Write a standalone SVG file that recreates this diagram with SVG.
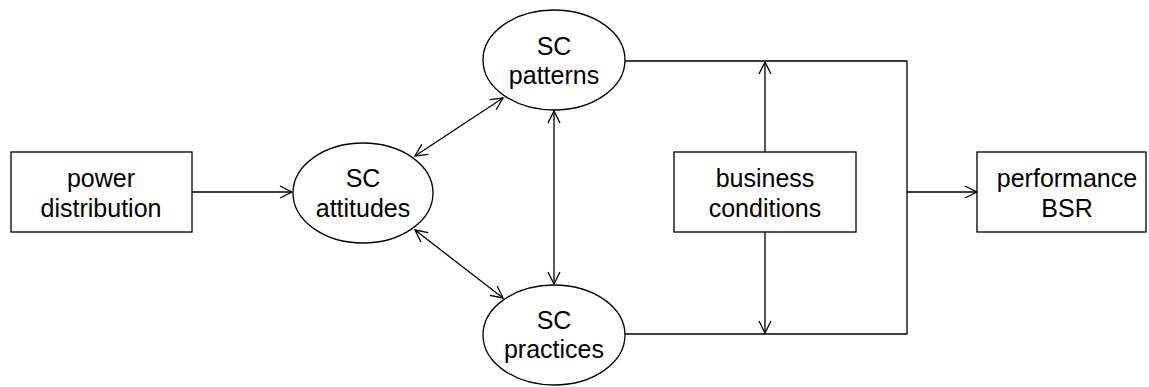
<svg xmlns="http://www.w3.org/2000/svg" width="1149" height="387" viewBox="0 0 1149 387">
  <style>
    .box { fill: #ffffff; stroke: #000000; stroke-width: 1.3; }
    .link { fill: none; stroke: #000000; stroke-width: 1.3; }
    .label { font-family: "Liberation Sans", Arial, sans-serif; font-size: 25px; fill: #000000; text-anchor: middle; }
  </style>
  <defs>
    <marker id="head" markerUnits="userSpaceOnUse" markerWidth="16" markerHeight="16" refX="13" refY="7" orient="auto-start-reverse" overflow="visible">
      <path d="M1,1 L13,7 L1,13" fill="none" stroke="#000000" stroke-width="1.3"/>
    </marker>
  </defs>
  <rect width="1149" height="387" fill="#ffffff"/>

  <g id="connectors">
    <!-- power distribution to attitudes -->
    <line class="link" x1="192" y1="192" x2="292" y2="192" marker-end="url(#head)"/>
    <!-- attitudes <-> patterns -->
    <line class="link" x1="415" y1="156" x2="503" y2="98" marker-start="url(#head)" marker-end="url(#head)"/>
    <!-- attitudes <-> practices -->
    <line class="link" x1="415" y1="230" x2="503" y2="298" marker-start="url(#head)" marker-end="url(#head)"/>
    <!-- patterns <-> practices -->
    <line class="link" x1="554" y1="111" x2="554" y2="284" marker-start="url(#head)" marker-end="url(#head)"/>
    <!-- patterns and practices merge into performance -->
    <path class="link" d="M625,61 H907 V334 H625"/>
    <line class="link" x1="907" y1="192" x2="977" y2="192" marker-end="url(#head)"/>
    <!-- business conditions moderating both paths -->
    <line class="link" x1="765" y1="152" x2="765" y2="62" marker-end="url(#head)"/>
    <line class="link" x1="765" y1="232" x2="765" y2="333" marker-end="url(#head)"/>
  </g>

  <g id="power-distribution">
    <rect class="box" x="11" y="152" width="181" height="80"/>
    <text class="label" x="101" y="187">power</text>
    <text class="label" x="101" y="217">distribution</text>
  </g>

  <g id="sc-attitudes">
    <ellipse class="box" cx="363" cy="193" rx="70" ry="50"/>
    <text class="label" x="363" y="187">SC</text>
    <text class="label" x="363" y="217">attitudes</text>
  </g>

  <g id="sc-patterns">
    <ellipse class="box" cx="554" cy="60" rx="71" ry="50"/>
    <text class="label" x="554" y="55">SC</text>
    <text class="label" x="554" y="84">patterns</text>
  </g>

  <g id="sc-practices">
    <ellipse class="box" cx="554" cy="335" rx="71" ry="50"/>
    <text class="label" x="554" y="329">SC</text>
    <text class="label" x="554" y="358">practices</text>
  </g>

  <g id="business-conditions">
    <rect class="box" x="674" y="152" width="182" height="80"/>
    <text class="label" x="765" y="187">business</text>
    <text class="label" x="765" y="217">conditions</text>
  </g>

  <g id="performance-bsr">
    <rect class="box" x="977" y="152" width="169" height="80"/>
    <text class="label" x="1067" y="187">performance</text>
    <text class="label" x="1067" y="217">BSR</text>
  </g>
</svg>
